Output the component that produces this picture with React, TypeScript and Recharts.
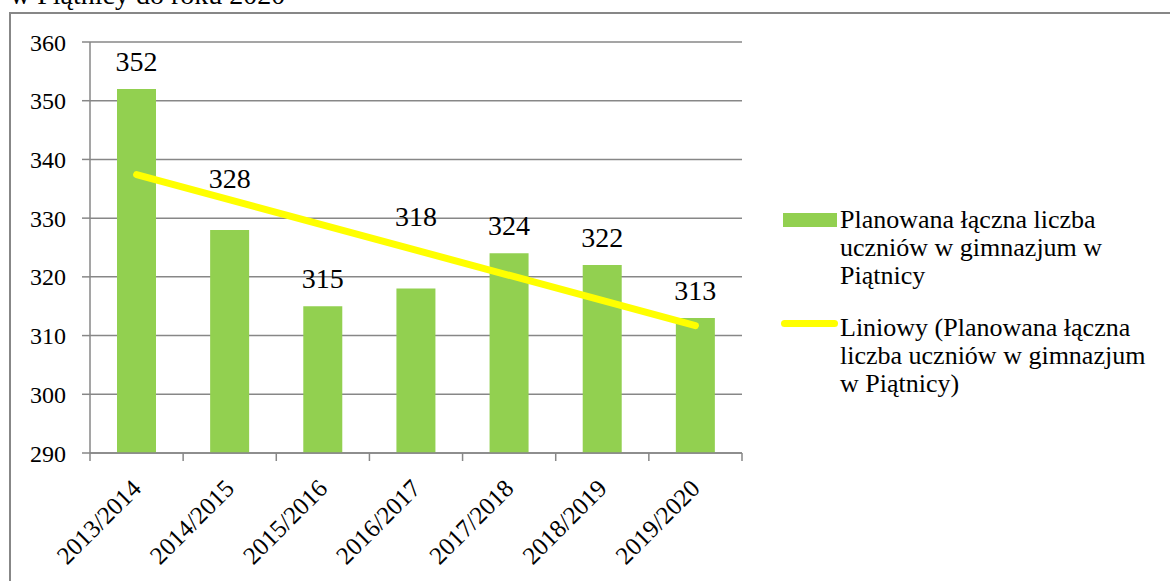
import React from 'react'
import { ComposedChart, Bar, Line, XAxis, YAxis, CartesianGrid, Legend, LabelList } from 'recharts'

const years = ['2013/2014', '2014/2015', '2015/2016', '2016/2017', '2017/2018', '2018/2019', '2019/2020']
const students = [352, 328, 315, 318, 324, 322, 313]
// trend line at its two ends only
const trend = [337.4, null, null, null, null, null, 311.7]
const yTicks = [290, 300, 310, 320, 330, 340, 350, 360]

const seriesName = 'Planowana łączna liczba uczniów w gimnazjum w Piątnicy'
const trendName = 'Liniowy (Planowana łączna liczba uczniów w gimnazjum w Piątnicy)'

const GREEN = '#92D050'
const YELLOW = '#FFFF00'
const GRID = '#878787'
const FONT = 'Liberation Serif, Tinos, DejaVu Serif, serif'

// labels Excel pushed up to keep them off the trend line
const labelLift: Record<string, number> = { '2014/2015': 24, '2016/2017': 45 }

const data = years.map((year, i) => ({ year, students: students[i], trend: trend[i] }))

const XTick = ({ x, y, payload, index }: any) => {
  const half = payload.offset ?? 0
  const ax = x + 6
  const ay = y + 37
  return (
    <g>
      <line x1={x - half} y1={y} x2={x - half} y2={y + 8} stroke={GRID} strokeWidth={1.5} />
      {index === years.length - 1 && (
        <line x1={x + half} y1={y} x2={x + half} y2={y + 8} stroke={GRID} strokeWidth={1.5} />
      )}
      <text x={ax} y={ay} transform={`rotate(-45, ${ax}, ${ay})`} textAnchor="end"
        style={{ fontFamily: FONT }} fontSize={25} fill="#000">{payload.value}</text>
    </g>
  )
}

const BarLabel = ({ x, y, width, value, index }: any) => {
  const lift = labelLift[years[index]] ?? 0
  return (
    <text x={x + width / 2} y={y - 18 - lift} textAnchor="middle" style={{ fontFamily: FONT }} fontSize={28} fill="#000">
      {value}
    </text>
  )
}

const LegendBox = () => (
  <div style={{ position: 'relative', fontFamily: FONT, fontSize: 26, lineHeight: '28px', color: '#000' }}>
    <div style={{ position: 'absolute', left: 13, top: 13, width: 54, height: 14, background: GREEN }} />
    <div style={{ position: 'absolute', left: 70, top: 6, width: 330 }}>
      Planowana łączna liczba<br />uczniów w gimnazjum w<br />Piątnicy
    </div>
    <div style={{ position: 'absolute', left: 11, top: 120, width: 57, height: 7, borderRadius: 4, background: YELLOW }} />
    <div style={{ position: 'absolute', left: 70, top: 114, width: 330 }}>
      Liniowy (Planowana łączna<br />liczba uczniów w gimnazjum<br />w Piątnicy)
    </div>
  </div>
)

export default function App() {
  return (
    <div style={{ position: 'absolute', left: 0, top: 0, width: 1170, height: 581, overflow: 'hidden', background: '#fff', fontFamily: FONT }}>
      <div style={{ position: 'absolute', left: 10, top: -21, fontSize: 28, whiteSpace: 'nowrap' }}>
        w Piątnicy do roku 2020
      </div>
      <div style={{ position: 'absolute', left: 9, top: 12, width: 1200, height: 620, border: `2px solid ${GRID}` }} />
      <div style={{ position: 'absolute', left: 0, top: 0 }}>
        <ComposedChart width={1170} height={581} data={data} margin={{ top: 42, right: 428, left: 10, bottom: 28 }}
          style={{ fontFamily: FONT }}>
          <CartesianGrid vertical={false} stroke={GRID} strokeWidth={1.5} />
          <XAxis dataKey="year" height={100} stroke={GRID} strokeWidth={1.5} tickLine={false} tickSize={0} tickMargin={0}
            interval={0} tick={<XTick />} />
          <YAxis type="number" domain={[290, 360]} ticks={yTicks} width={80} stroke={GRID} strokeWidth={1.5}
            tickSize={8} tickMargin={16} tick={{ fontFamily: FONT, fontSize: 24, fill: '#000' }} interval={0} />
          <Legend layout="horizontal" verticalAlign="middle" align="center" content={<LegendBox />}
            wrapperStyle={{ position: 'absolute', left: 770, top: 200, width: 400, height: 220 }} />
          <Bar dataKey="students" name={seriesName} fill={GREEN} barSize={39} isAnimationActive={false}>
            <LabelList dataKey="students" content={<BarLabel />} />
          </Bar>
          <Line dataKey="trend" name={trendName} stroke={YELLOW} strokeWidth={7} strokeLinecap="round" dot={false}
            activeDot={false} connectNulls isAnimationActive={false} />
        </ComposedChart>
      </div>
    </div>
  )
}
